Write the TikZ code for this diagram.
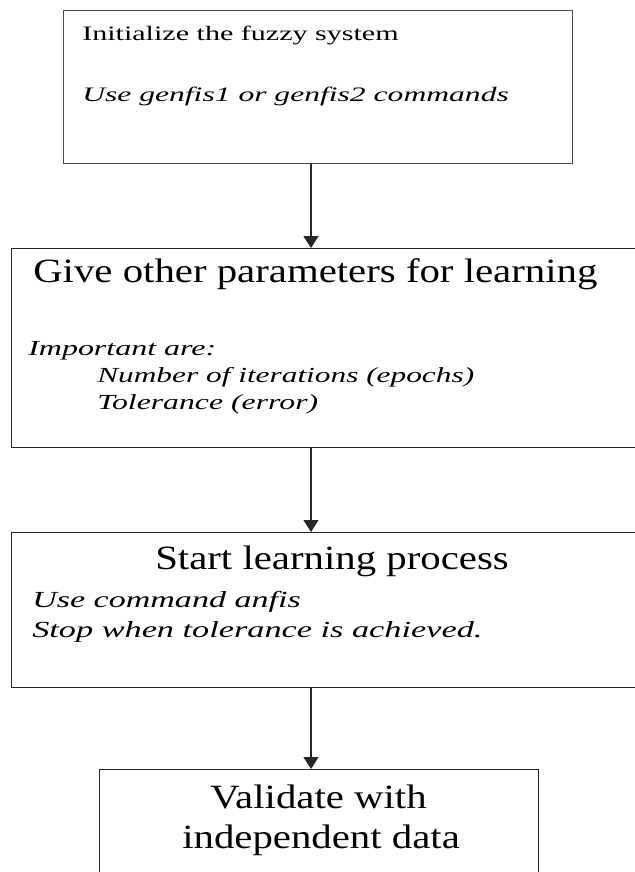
\documentclass[tikz,border=0pt]{standalone}
\usepackage{graphicx}
\usepackage{fontspec}
\setmainfont{Liberation Serif}
\usetikzlibrary{arrows.meta}

% horizontally widened text
\newcommand{\widetext}[2]{\scalebox{#1}[1]{#2}}

\begin{document}
\begin{tikzpicture}[x=0.75pt, y=-0.75pt,
  box/.style={draw=black!85, line width=0.9pt, inner sep=0pt, anchor=north west},
  lbl/.style={anchor=base west, inner sep=0pt},
  title/.style={lbl, font=\fontsize{25.5pt}{30pt}\selectfont},
  smallA/.style={lbl, font=\fontsize{15.4pt}{18pt}\selectfont},
  smallB/.style={lbl, font=\fontsize{16.1pt}{19pt}\selectfont\itshape},
  smallC/.style={lbl, font=\fontsize{17.25pt}{20pt}\selectfont\itshape},
  conn/.style={draw=black!85, line width=0.9pt, -{Triangle[width=11.25pt, length=9pt]}}]

\useasboundingbox (0,0) rectangle (635,872);
\clip (0,0) rectangle (635,872);
\fill[white] (0,0) rectangle (635,872);

% process boxes
\node[box, draw=black!70, minimum width=381.75pt, minimum height=114.75pt] (b1) at (63,10) {};
\node[box, minimum width=486.75pt, minimum height=149.25pt] (b2) at (11,248) {};
\node[box, minimum width=486.75pt, minimum height=116.25pt] (b3) at (11,532) {};
\node[box, minimum width=329.25pt, minimum height=105pt] (b4) at (99,769) {};

% box texts
\node[smallA] (t1a) at (82,40) {\widetext{1.464}{Initialize the fuzzy system}};
\node[smallA] (t1b) at (82,101) {\widetext{1.539}{\itshape Use genfis1 or genfis2 commands}};

\node[title] (t2) at (33,282) {\widetext{1.2}{Give other parameters for learning}};
\node[smallB] (t2a) at (28,355) {\widetext{1.49}{Important are:}};
\node[smallB] (t2b) at (97,382) {\widetext{1.46}{Number of iterations (epochs)}};
\node[smallB] (t2c) at (97,409) {\widetext{1.48}{Tolerance (error)}};

\node[title] (t3) at (155,569) {\widetext{1.2}{Start learning process}};
\node[smallC] (t3a) at (32,607) {\widetext{1.48}{Use command anfis}};
\node[smallC] (t3b) at (32,637) {\widetext{1.49}{Stop when tolerance is achieved.}};

\node[title] (t4a) at (210,808) {\widetext{1.2}{Validate with}};
\node[title] (t4b) at (182,848) {\widetext{1.2}{independent data}};

% connectors
\coordinate (ax) at (311,0);
\draw[conn] (b1.south -| ax) -- (b2.north -| ax);
\draw[conn] (b2.south -| ax) -- (b3.north -| ax);
\draw[conn] (b3.south -| ax) -- (b4.north -| ax);
\end{tikzpicture}
\end{document}
